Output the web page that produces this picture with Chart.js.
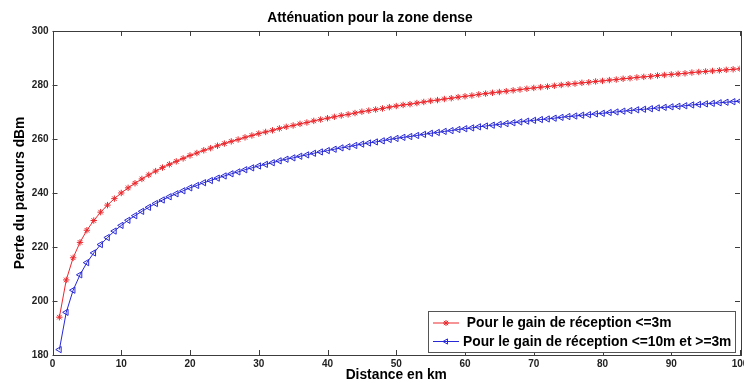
<!DOCTYPE html>
<html>
<head>
<meta charset="utf-8">
<script src="https://cdn.jsdelivr.net/npm/chart.js@4.4.1/dist/chart.umd.min.js"></script>
<style>
  html, body { margin: 0; padding: 0; background: #fff; overflow: hidden; }
  #wrap { width: 760px; height: 383px; }
</style>
</head>
<body>
<div id="wrap"><canvas id="myChart" width="760" height="383"></canvas></div>
<script>
const distances = [
  1, 2, 3, 4, 5, 6, 7, 8, 9, 10,
  11, 12, 13, 14, 15, 16, 17, 18, 19, 20,
  21, 22, 23, 24, 25, 26, 27, 28, 29, 30,
  31, 32, 33, 34, 35, 36, 37, 38, 39, 40,
  41, 42, 43, 44, 45, 46, 47, 48, 49, 50,
  51, 52, 53, 54, 55, 56, 57, 58, 59, 60,
  61, 62, 63, 64, 65, 66, 67, 68, 69, 70,
  71, 72, 73, 74, 75, 76, 77, 78, 79, 80,
  81, 82, 83, 84, 85, 86, 87, 88, 89, 90,
  91, 92, 93, 94, 95, 96, 97, 98, 99, 100
];

// gain de réception <= 3m
const perte3m = [
  194.0, 207.8, 216.0, 221.7, 226.2, 229.8, 232.9, 235.5, 237.9, 240.0,
  241.9, 243.6, 245.2, 246.7, 248.1, 249.4, 250.6, 251.7, 252.8, 253.9,
  254.8, 255.8, 256.6, 257.5, 258.3, 259.1, 259.8, 260.6, 261.3, 262.0,
  262.6, 263.2, 263.9, 264.5, 265.0, 265.6, 266.1, 266.7, 267.2, 267.7,
  268.2, 268.7, 269.1, 269.6, 270.1, 270.5, 270.9, 271.3, 271.8, 272.2,
  272.6, 272.9, 273.3, 273.7, 274.1, 274.4, 274.8, 275.1, 275.5, 275.8,
  276.1, 276.5, 276.8, 277.1, 277.4, 277.7, 278.0, 278.3, 278.6, 278.9,
  279.2, 279.4, 279.7, 280.0, 280.3, 280.5, 280.8, 281.0, 281.3, 281.5,
  281.8, 282.0, 282.3, 282.5, 282.8, 283.0, 283.2, 283.5, 283.7, 283.9,
  284.1, 284.3, 284.6, 284.8, 285.0, 285.2, 285.4, 285.6, 285.8, 286.0
];

// gain de réception <= 10m et >= 3m
const perte10m = [
  182.0, 195.8, 204.0, 209.7, 214.2, 217.8, 220.9, 223.5, 225.9, 228.0,
  229.9, 231.6, 233.2, 234.7, 236.1, 237.4, 238.6, 239.7, 240.8, 241.9,
  242.8, 243.8, 244.6, 245.5, 246.3, 247.1, 247.8, 248.6, 249.3, 250.0,
  250.6, 251.2, 251.9, 252.5, 253.0, 253.6, 254.1, 254.7, 255.2, 255.7,
  256.2, 256.7, 257.1, 257.6, 258.1, 258.5, 258.9, 259.3, 259.8, 260.2,
  260.6, 260.9, 261.3, 261.7, 262.1, 262.4, 262.8, 263.1, 263.5, 263.8,
  264.1, 264.5, 264.8, 265.1, 265.4, 265.7, 266.0, 266.3, 266.6, 266.9,
  267.2, 267.4, 267.7, 268.0, 268.3, 268.5, 268.8, 269.0, 269.3, 269.5,
  269.8, 270.0, 270.3, 270.5, 270.8, 271.0, 271.2, 271.5, 271.7, 271.9,
  272.1, 272.3, 272.6, 272.8, 273.0, 273.2, 273.4, 273.6, 273.8, 274.0
];

const xTicks = [0, 10, 20, 30, 40, 50, 60, 70, 80, 90, 100];
const yTicks = [180, 200, 220, 240, 260, 280, 300];

const seriesLabels = [
  ' Pour le gain de réception <=3m',
  'Pour le gain de réception <=10m et >=3m'
];

const frameColor = '#3c3c3c';
const fontFamily = '"Liberation Sans", Arial, sans-serif';

function toPoints(ys) {
  return distances.map(function (d, i) { return { x: d, y: ys[i] }; });
}

// box, inside ticks and legend drawn like the original figure
const matlabFrame = {
  id: 'matlabFrame',
  afterDatasetsDraw: function (chart) {
    const c = chart.ctx;
    const a = chart.chartArea;
    const xs = chart.scales.x;
    const ys = chart.scales.y;
    const tl = 5;
    c.save();
    c.strokeStyle = frameColor;
    c.lineWidth = 1;
    c.beginPath();
    xTicks.forEach(function (v) {
      const px = Math.round(xs.getPixelForValue(v)) + 0.5;
      c.moveTo(px, a.bottom); c.lineTo(px, a.bottom - tl);
      c.moveTo(px, a.top); c.lineTo(px, a.top + tl);
    });
    yTicks.forEach(function (v) {
      const py = Math.round(ys.getPixelForValue(v)) + 0.5;
      c.moveTo(a.left, py); c.lineTo(a.left + tl, py);
      c.moveTo(a.right, py); c.lineTo(a.right - tl, py);
    });
    c.stroke();
    c.strokeRect(Math.round(a.left) + 0.5, Math.round(a.top) + 0.5,
      Math.round(a.right - a.left), Math.round(a.bottom - a.top));

    // legend
    const bx = 428.5, by = 311.5, bw = 307, bh = 41;
    c.fillStyle = '#fff';
    c.fillRect(bx, by, bw, bh);
    c.strokeStyle = '#555';
    c.strokeRect(bx, by, bw, bh);
    const rows = [323, 341.5];
    chart.data.datasets.forEach(function (ds, i) {
      const y = rows[i];
      c.strokeStyle = ds.borderColor;
      c.lineWidth = 1;
      c.beginPath();
      c.moveTo(433, y); c.lineTo(459, y);
      c.stroke();
      c.fillStyle = 'rgba(0,0,0,0)';
      Chart.helpers.drawPoint(c, {
        pointStyle: ds.pointStyle, rotation: ds.pointRotation,
        radius: 3, borderWidth: 1
      }, 446, y);
      c.fillStyle = '#000';
      c.font = 'bold 13.8px ' + fontFamily;
      c.textBaseline = 'middle';
      c.textAlign = 'left';
      c.fillText(ds.label, 463, y + 0.5);
    });
    c.restore();
  }
};

new Chart(document.getElementById('myChart'), {
  type: 'line',
  data: {
    datasets: [{
      label: seriesLabels[0],
      data: toPoints(perte3m),
      borderColor: 'rgb(235,40,45)',
      backgroundColor: 'transparent',
      borderWidth: 1,
      pointStyle: 'star',
      pointRadius: 3.2,
      pointBorderWidth: 1,
      pointBorderColor: 'rgb(235,40,45)',
      pointBackgroundColor: 'transparent',
      tension: 0
    }, {
      label: seriesLabels[1],
      data: toPoints(perte10m),
      borderColor: 'rgb(40,40,215)',
      backgroundColor: 'transparent',
      borderWidth: 1,
      pointStyle: 'triangle',
      pointRotation: 270,
      pointRadius: 3.6,
      pointBorderWidth: 1,
      pointBorderColor: 'rgb(40,40,215)',
      pointBackgroundColor: 'transparent',
      tension: 0
    }]
  },
  options: {
    responsive: false,
    animation: false,
    devicePixelRatio: 1,
    layout: { padding: { left: 0, right: 20, top: 0, bottom: 0 } },
    plugins: {
      legend: { display: false },
      tooltip: { enabled: false },
      title: {
        display: true,
        text: 'Atténuation pour la zone dense',
        color: '#000',
        font: { family: fontFamily, size: 13.8, weight: 'bold' },
        padding: { top: 9.5, bottom: 4.9 }
      }
    },
    scales: {
      x: {
        type: 'linear',
        min: 0,
        max: 100,
        afterFit: function (scale) { scale.height = 28; },
        afterBuildTicks: function (scale) {
          scale.ticks = xTicks.map(function (v) { return { value: v }; });
        },
        grid: { display: false, drawTicks: false },
        border: { display: false },
        ticks: {
          autoSkip: false,
          maxRotation: 0,
          padding: 3,
          color: '#222',
          font: { family: fontFamily, size: 10, weight: 'bold' }
        },
        title: {
          display: true,
          text: 'Distance en km',
          color: '#000',
          font: { family: fontFamily, size: 13.8, weight: 'bold' },
          padding: { top: 0, bottom: 0 }
        }
      },
      y: {
        min: 180,
        max: 300,
        afterFit: function (scale) { scale.width = 52.5; },
        afterBuildTicks: function (scale) {
          scale.ticks = yTicks.map(function (v) { return { value: v }; });
        },
        grid: { display: false, drawTicks: false },
        border: { display: false },
        ticks: {
          autoSkip: false,
          padding: 4,
          color: '#222',
          font: { family: fontFamily, size: 10, weight: 'bold' }
        },
        title: {
          display: true,
          text: 'Perte du parcours dBm',
          color: '#000',
          font: { family: fontFamily, size: 13.8, weight: 'bold' },
          padding: { top: 11.6, bottom: 0 }
        }
      }
    }
  },
  plugins: [matlabFrame]
});
</script>
</body>
</html>
